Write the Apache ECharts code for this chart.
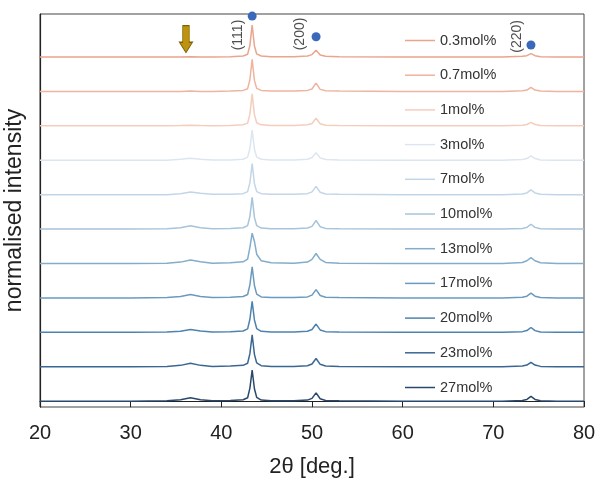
<!DOCTYPE html>
<html>
<head>
<meta charset="utf-8">
<script src="https://cdn.jsdelivr.net/npm/echarts@6/dist/echarts.min.js"></script>
<style>
  html, body { margin: 0; padding: 0; background: #fff; }
  #chart { width: 602px; height: 488px; }
</style>
</head>
<body>
<div id="chart"></div>
<script>
// 2theta sample positions (deg), shared by every pattern
const twoTheta = [20, 30, 34, 35.5, 36.6, 37.7, 39, 41, 42.4, 42.9, 43.15, 43.4, 43.65, 43.9, 44.4, 45.5,
  48, 49.5, 50.0, 50.45, 50.9, 51.5, 53, 60, 71, 73.2, 73.7, 74.15, 74.6, 75.2, 77, 80]

const sampleNames = ['0.3mol%', '0.7mol%', '1mol%', '3mol%', '7mol%', '10mol%', '13mol%', '17mol%', '20mol%', '23mol%', '27mol%']
const offsets = [10, 9, 8, 7, 6, 5, 4, 3, 2, 1, 0]
const lineColors = ['#e9a58d', '#efb49e', '#f5cdbd', '#dce6f0', '#c3d6e7', '#a6c4db', '#82adcb', '#6a9bbf', '#4e82af', '#3a6792', '#2b486c']

// normalised intensity above each baseline (one trace spacing = 1)
const i03 = [0, 0, 0, 0, 0.01, 0, 0, 0.01, 0.03, 0.08, 0.34, 0.93, 0.32, 0.09, 0.03, 0.01, 0.01, 0.03, 0.07, 0.2, 0.06, 0.02, 0.01, 0, 0, 0.02, 0.04, 0.1, 0.04, 0.01, 0, 0]
const i07 = [0, 0, 0, 0, 0.01, 0, 0, 0.01, 0.03, 0.08, 0.34, 0.93, 0.32, 0.09, 0.03, 0.01, 0.01, 0.03, 0.07, 0.24, 0.06, 0.02, 0.01, 0, 0, 0.02, 0.04, 0.12, 0.04, 0.01, 0, 0]
const i1 = [0, 0, 0, 0.01, 0.02, 0.01, 0, 0.01, 0.03, 0.08, 0.34, 0.93, 0.32, 0.09, 0.03, 0.01, 0.01, 0.03, 0.07, 0.22, 0.06, 0.02, 0.01, 0, 0, 0.02, 0.04, 0.1, 0.04, 0.01, 0, 0]
const i3 = [0, 0, 0, 0.03, 0.06, 0.03, 0.01, 0.01, 0.03, 0.09, 0.34, 0.88, 0.32, 0.09, 0.03, 0.01, 0.01, 0.03, 0.08, 0.22, 0.07, 0.02, 0.01, 0, 0, 0.02, 0.05, 0.13, 0.05, 0.01, 0, 0]
const i7 = [0, 0, 0, 0.03, 0.08, 0.04, 0.01, 0.01, 0.03, 0.09, 0.35, 0.9, 0.32, 0.09, 0.03, 0.01, 0.01, 0.03, 0.08, 0.24, 0.07, 0.02, 0.01, 0, 0, 0.02, 0.05, 0.14, 0.05, 0.01, 0, 0]
const i10 = [0, 0, 0.01, 0.04, 0.1, 0.04, 0.01, 0.02, 0.04, 0.1, 0.37, 0.92, 0.34, 0.1, 0.03, 0.01, 0.01, 0.03, 0.08, 0.25, 0.07, 0.02, 0.01, 0, 0, 0.02, 0.05, 0.14, 0.05, 0.01, 0, 0]
const i13 = [0, 0, 0.01, 0.04, 0.1, 0.05, 0.01, 0.02, 0.05, 0.13, 0.47, 0.88, 0.64, 0.27, 0.08, 0.02, 0.01, 0.04, 0.12, 0.29, 0.12, 0.03, 0.01, 0, 0, 0.03, 0.08, 0.17, 0.08, 0.02, 0, 0]
const i17 = [0, 0, 0.01, 0.04, 0.1, 0.04, 0.01, 0.02, 0.04, 0.1, 0.38, 0.9, 0.36, 0.11, 0.03, 0.01, 0.01, 0.03, 0.08, 0.24, 0.07, 0.02, 0.01, 0, 0, 0.02, 0.05, 0.14, 0.05, 0.01, 0, 0]
const i20 = [0, 0, 0.01, 0.03, 0.08, 0.04, 0.01, 0.02, 0.04, 0.1, 0.38, 0.9, 0.36, 0.11, 0.03, 0.01, 0.01, 0.03, 0.08, 0.24, 0.07, 0.02, 0.01, 0, 0, 0.02, 0.05, 0.14, 0.05, 0.01, 0, 0]
const i23 = [0, 0, 0.01, 0.04, 0.1, 0.04, 0.01, 0.02, 0.04, 0.1, 0.38, 0.93, 0.36, 0.11, 0.03, 0.01, 0.01, 0.03, 0.08, 0.24, 0.07, 0.02, 0.01, 0, 0, 0.02, 0.05, 0.13, 0.05, 0.01, 0, 0]
const i27 = [0, 0, 0.01, 0.04, 0.1, 0.04, 0.01, 0.02, 0.04, 0.1, 0.38, 0.9, 0.36, 0.11, 0.03, 0.01, 0.01, 0.03, 0.08, 0.24, 0.07, 0.02, 0.01, 0, 0, 0.02, 0.05, 0.14, 0.05, 0.01, 0, 0]
const intensities = [i03, i07, i1, i3, i7, i10, i13, i17, i20, i23, i27]

// peak markers and Miller indices
const peakDots = [[43.4, 11.19], [50.45, 10.59], [74.15, 10.35]]
const peakLabels = ['(111)', '(200)', '(220)']
const peakLabelPos = [[41.85, 10.64], [48.7, 10.67], [72.65, 10.6]]
const arrowPos = [36.1, 10.52]

const chart = echarts.init(document.getElementById('chart'))

const patternSeries = sampleNames.map((name, k) => ({
  name: name,
  type: 'line',
  symbol: 'none',
  showSymbol: false,
  color: lineColors[k],
  lineStyle: { width: 1.5, color: lineColors[k] },
  data: twoTheta.map((x, j) => [x, intensities[k][j] + offsets[k]]),
  z: 2
}))

chart.setOption({
  animation: false,
  textStyle: { fontFamily: 'Liberation Sans, Arial, sans-serif' },
  grid: {
    left: 40, right: 18, top: 14, bottom: 81,
    outerBoundsMode: 'none',
    containLabel: false,
    show: true, borderColor: '#444', borderWidth: 1
  },
  legend: {
    data: sampleNames,
    orient: 'vertical',
    left: 400,
    top: 28,
    icon: 'rect',
    itemWidth: 30,
    itemHeight: 1.5,
    itemGap: 19.7,
    textStyle: { fontSize: 14.5, color: '#333', lineHeight: 15 }
  },
  xAxis: {
    type: 'value',
    min: 20,
    max: 80,
    interval: 10,
    name: '2θ [deg.]',
    nameLocation: 'middle',
    nameGap: 49,
    nameTextStyle: { fontSize: 22, color: '#222' },
    axisLine: { lineStyle: { color: '#222', width: 1.2 } },
    axisTick: { show: true, length: 6, lineStyle: { color: '#222' } },
    axisLabel: { fontSize: 20, color: '#222', margin: 16 },
    splitLine: { show: false }
  },
  yAxis: {
    type: 'value',
    min: -0.17,
    max: 11.25,
    name: 'normalised intensity',
    nameLocation: 'middle',
    nameGap: 14,
    nameTextStyle: { fontSize: 23, color: '#222' },
    axisLine: { show: true, lineStyle: { color: '#222', width: 1.2 } },
    axisTick: { show: false },
    axisLabel: { show: false },
    splitLine: { show: false }
  },
  series: patternSeries.concat([
    {
      type: 'scatter',
      symbolSize: 9,
      itemStyle: { color: '#3a68bb', opacity: 1 },
      data: peakDots,
      z: 5
    },
    {
      type: 'scatter',
      symbolSize: 1,
      itemStyle: { color: 'rgba(0,0,0,0)' },
      label: {
        show: true,
        position: 'inside',
        rotate: 90,
        fontSize: 14,
        color: '#222',
        formatter: p => peakLabels[p.dataIndex]
      },
      data: peakLabelPos,
      z: 5
    },
    {
      type: 'scatter',
      symbol: 'path://M3,0 L9,0 L9,16 L12,16 L6,26 L0,16 L3,16 Z',
      symbolSize: [13, 27],
      itemStyle: { color: '#be940e', borderColor: '#7d6206', borderWidth: 1, opacity: 1 },
      data: [arrowPos],
      z: 5
    }
  ])
})
</script>
</body>
</html>
